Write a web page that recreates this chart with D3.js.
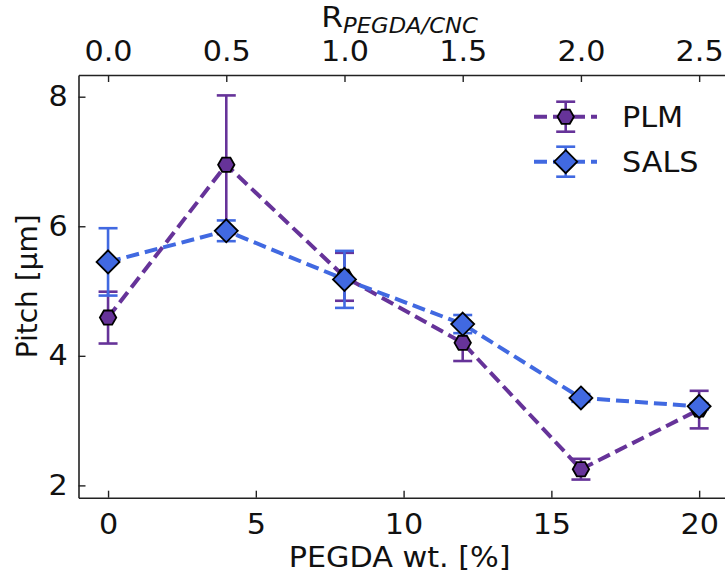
<!DOCTYPE html>
<html>
<head>
<meta charset="utf-8">
<script src="https://cdn.jsdelivr.net/npm/d3@7/dist/d3.min.js"></script>
<style>
  body { margin: 0; background: #fff; }
  svg { display: block; font-family: "DejaVu Sans", sans-serif; }
</style>
</head>
<body>
<div id="chart"></div>
<script>
// data
var wt = [0, 4, 8, 12, 16, 20];
var plmPitch = [4.59, 6.95, 5.22, 4.20, 2.25, 3.17];
var plmErr = [0.40, 1.07, 0.37, 0.28, 0.16, 0.29];
var salsPitch = [5.45, 5.93, 5.18, 4.49, 3.35, 3.22];
var salsErr = [0.52, 0.16, 0.44, 0.14, 0.06, 0.05];
var xTicks = [0, 5, 10, 15, 20];
var rTicks = [0.0, 0.5, 1.0, 1.5, 2.0, 2.5];
var yTicks = [2, 4, 6, 8];
var seriesNames = ['PLM', 'SALS'];

var width = 725, height = 575;
var m = { left: 78.5, top: 75, right: 728.7, bottom: 497.7 };

var svg = d3.select('#chart').append('svg')
    .attr('width', width)
    .attr('height', height);

var x = d3.scaleLinear().domain([-1, 21]).range([m.left, m.right]);
var xTop = d3.scaleLinear().domain([-1 / 8, 21 / 8]).range([m.left, m.right]);
var y = d3.scaleLinear().domain([1.81, 8.335]).range([m.bottom, m.top]);

var purple = '#663399',
    blue = '#4169e1';

var fs = 28,
    sx = 1.08; // reference text is a bit wider than DejaVu

// axes (ticks inward)
var gB = svg.append('g').attr('transform', 'translate(0,' + m.bottom + ')')
    .call(d3.axisBottom(x).tickValues(xTicks).tickSizeInner(-7).tickSizeOuter(0).tickPadding(16).tickFormat(d3.format('d')));
var gT = svg.append('g').attr('transform', 'translate(0,' + m.top + ')')
    .call(d3.axisTop(xTop).tickValues(rTicks).tickSizeInner(-7).tickSizeOuter(0).tickPadding(14).tickFormat(d3.format('.1f')));
var gL = svg.append('g').attr('transform', 'translate(' + m.left + ',0)')
    .call(d3.axisLeft(y).tickValues(yTicks).tickSizeInner(-7).tickSizeOuter(0).tickPadding(10).tickFormat(d3.format('d')));

[gB, gT, gL].forEach(function(g) {
    g.select('.domain').attr('stroke', '#222').attr('stroke-width', 1.6);
    g.selectAll('.tick line').attr('stroke', '#222').attr('stroke-width', 1.4);
    g.selectAll('.tick text').attr('font-size', fs).attr('fill', '#111')
        .attr('font-family', '"DejaVu Sans", sans-serif')
        .attr('transform', 'scale(' + sx + ',1)');
});
gB.selectAll('.tick text').attr('dy', '0.71em');

// axis labels
svg.append('text')
    .attr('transform', 'translate(' + ((m.left + m.right) / 2 - 4) + ',567) scale(' + sx + ',1)')
    .attr('text-anchor', 'middle')
    .attr('font-size', fs)
    .attr('fill', '#111')
    .text('PEGDA wt. [%]');

svg.append('text')
    .attr('transform', 'translate(37,' + ((m.top + m.bottom) / 2) + ') rotate(-90)')
    .attr('text-anchor', 'middle')
    .attr('font-size', fs)
    .attr('fill', '#111')
    .text('Pitch [μm]');

var topLab = svg.append('text')
    .attr('transform', 'translate(' + ((m.left + m.right) / 2 - 4) + ',27) scale(' + sx + ',1)')
    .attr('text-anchor', 'middle')
    .attr('font-size', 29)
    .attr('fill', '#111');
topLab.append('tspan').text('R');
topLab.append('tspan').attr('font-size', 21).attr('font-style', 'italic').attr('dy', 6).text('PEGDA/CNC');

// markers
function hexPath(r) {
    var pts = d3.range(6).map(function(i) {
        var a = Math.PI / 3 * i;
        return [r * Math.cos(a), r * Math.sin(a)];
    });
    return 'M' + pts.join('L') + 'Z';
}
function diamondPath(r) {
    return 'M0,' + (-r) + 'L' + r + ',0L0,' + r + 'L' + (-r) + ',0Z';
}

var series = [
    { name: seriesNames[0], v: plmPitch, e: plmErr, color: purple, marker: hexPath(8.2) },
    { name: seriesNames[1], v: salsPitch, e: salsErr, color: blue, marker: diamondPath(11.5) }
];

var line = d3.line()
    .x(function(d) { return x(d[0]); })
    .y(function(d) { return y(d[1]); });

var capW = 9.5;

series.forEach(function(s) {
    var g = svg.append('g');
    var pts = wt.map(function(w, i) { return [w, s.v[i], s.e[i]]; });

    // error bars
    var eb = g.append('g').attr('stroke', s.color).attr('stroke-width', 2.6).attr('fill', 'none');
    pts.forEach(function(p) {
        var cx = x(p[0]), y0 = y(p[1] - p[2]), y1 = y(p[1] + p[2]);
        eb.append('line').attr('x1', cx).attr('x2', cx).attr('y1', y0).attr('y2', y1);
        eb.append('line').attr('x1', cx - capW).attr('x2', cx + capW).attr('y1', y0).attr('y2', y0);
        eb.append('line').attr('x1', cx - capW).attr('x2', cx + capW).attr('y1', y1).attr('y2', y1);
    });

    g.append('path')
        .attr('d', line(pts))
        .attr('fill', 'none')
        .attr('stroke', s.color)
        .attr('stroke-width', 4)
        .attr('stroke-dasharray', '13,6');

    g.selectAll('.mk').data(pts).enter().append('path')
        .attr('class', 'mk')
        .attr('transform', function(d) { return 'translate(' + x(d[0]) + ',' + y(d[1]) + ')'; })
        .attr('d', s.marker)
        .attr('fill', s.color)
        .attr('stroke', '#000')
        .attr('stroke-width', 1.8);
});

// legend
var leg = svg.append('g');
series.forEach(function(s, i) {
    var cy = 116.7 + i * 45, lx0 = 534, lx1 = 597, cx = 565.7;
    var g = leg.append('g');
    g.append('line').attr('x1', lx0).attr('x2', lx1).attr('y1', cy).attr('y2', cy)
        .attr('stroke', s.color).attr('stroke-width', 4).attr('stroke-dasharray', '13,6');
    g.append('line').attr('x1', cx).attr('x2', cx).attr('y1', cy - 15).attr('y2', cy + 15)
        .attr('stroke', s.color).attr('stroke-width', 2.6);
    g.append('line').attr('x1', cx - capW).attr('x2', cx + capW).attr('y1', cy - 15).attr('y2', cy - 15)
        .attr('stroke', s.color).attr('stroke-width', 2.6);
    g.append('line').attr('x1', cx - capW).attr('x2', cx + capW).attr('y1', cy + 15).attr('y2', cy + 15)
        .attr('stroke', s.color).attr('stroke-width', 2.6);
    g.append('path').attr('transform', 'translate(' + cx + ',' + cy + ')')
        .attr('d', s.marker).attr('fill', s.color).attr('stroke', '#000').attr('stroke-width', 1.8);
    g.append('text').attr('transform', 'translate(622,' + (cy + 10.5) + ') scale(' + sx + ',1)')
        .attr('font-size', fs).attr('fill', '#111').text(s.name);
});
</script>
</body>
</html>
